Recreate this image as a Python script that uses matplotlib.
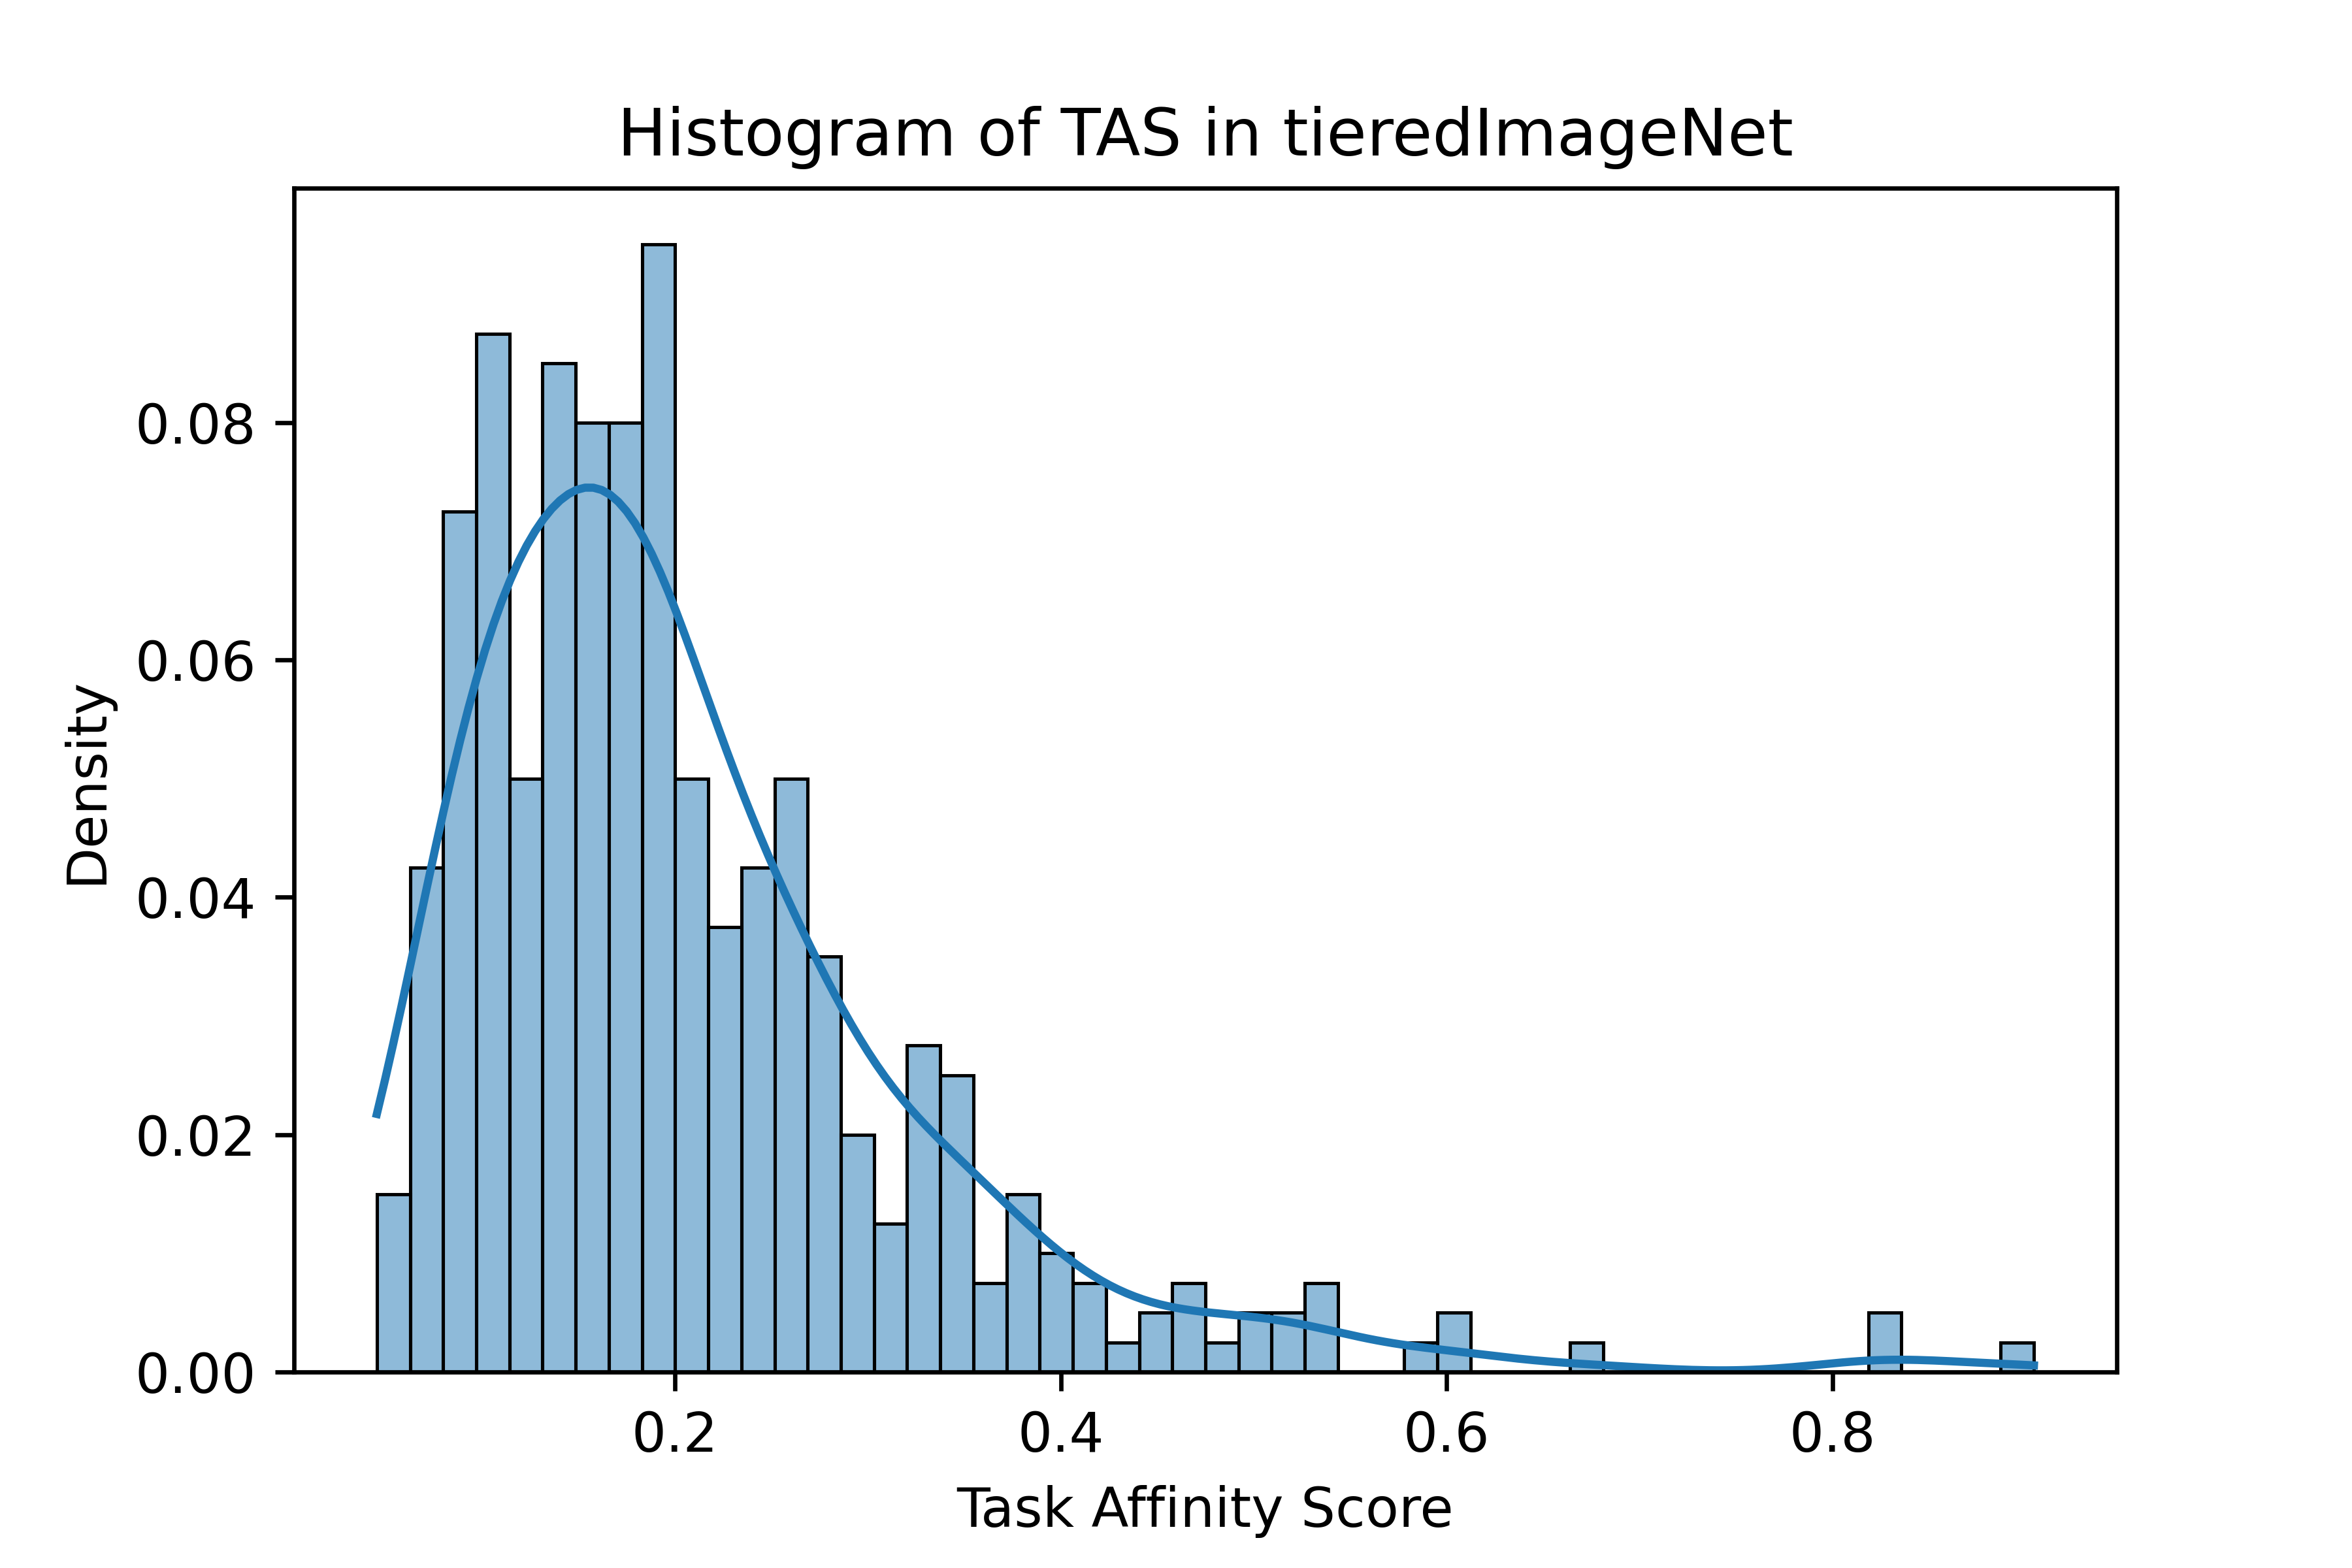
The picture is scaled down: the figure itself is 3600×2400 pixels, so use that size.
import numpy as np
import matplotlib
matplotlib.use("Agg")
import matplotlib.pyplot as plt
import seaborn as sns

# range of the task affinity scores and number of histogram bins
tas_min, tas_max = 0.0454, 0.9045
n_bins = 50

# number of tasks per bin (400 tasks in total)
counts = [6, 17, 29, 35, 20, 34, 32, 32, 38, 20,
          15, 17, 20, 14, 8, 5, 11, 10, 3, 6,
          4, 3, 1, 2, 3, 1, 2, 2, 3, 0,
          0, 1, 2, 0, 0, 0, 1, 0, 0, 0,
          0, 0, 0, 0, 0, 2, 0, 0, 0, 1]

edges = np.linspace(tas_min, tas_max, n_bins + 1)
centers = (edges[:-1] + edges[1:]) / 2
tas = np.repeat(centers, counts)   # one score per task

fig, ax = plt.subplots(figsize=(6, 4))
fig.subplots_adjust(bottom=0.125)
sns.histplot(x=tas, bins=n_bins, binrange=(tas_min, tas_max),
             stat='probability', kde=True,
             kde_kws=dict(cut=3, clip=(tas_min, tas_max)), ax=ax)
ax.set_title('Histogram of TAS in tieredImageNet')
ax.set_xlabel('Task Affinity Score')
ax.set_ylabel('Density')

fig.savefig('out.png', dpi=600)
